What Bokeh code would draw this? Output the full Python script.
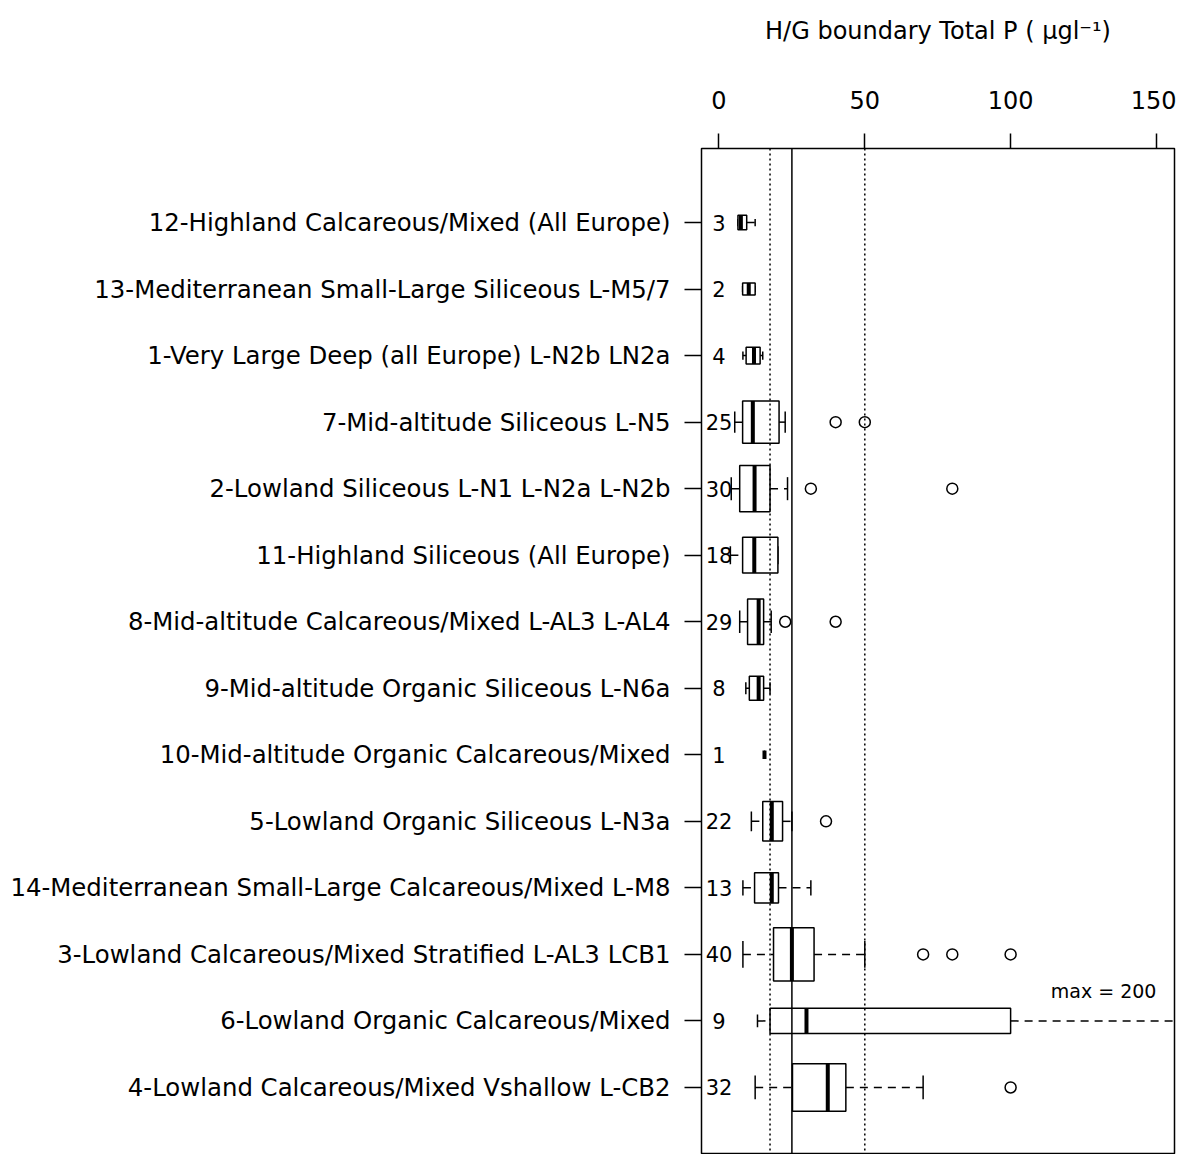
from bokeh.plotting import figure
from bokeh.models import Range1d, LinearAxis, FixedTicker, Span, ColumnDataSource
from bokeh.core.properties import value
from bokeh.embed import file_html
from bokeh.resources import INLINE
import numpy as np

# ---- data (top row first) ----
labels = [
    "12-Highland Calcareous/Mixed (All Europe)",
    "13-Mediterranean Small-Large Siliceous L-M5/7",
    "1-Very Large Deep (all Europe) L-N2b LN2a",
    "7-Mid-altitude Siliceous L-N5",
    "2-Lowland Siliceous L-N1 L-N2a L-N2b",
    "11-Highland Siliceous (All Europe)",
    "8-Mid-altitude Calcareous/Mixed L-AL3 L-AL4",
    "9-Mid-altitude Organic Siliceous L-N6a",
    "10-Mid-altitude Organic Calcareous/Mixed",
    "5-Lowland Organic Siliceous L-N3a",
    "14-Mediterranean Small-Large Calcareous/Mixed L-M8",
    "3-Lowland Calcareous/Mixed Stratified L-AL3 LCB1",
    "6-Lowland Organic Calcareous/Mixed",
    "4-Lowland Calcareous/Mixed Vshallow L-CB2",
]
counts   = [3, 2, 4, 25, 30, 18, 29, 8, 1, 22, 13, 40, 9, 32]
lower    = [6.5, 8.1, 8.2, 5.4, 4.2, 3.9, 7.1, 9.2, 15.6, 11.1, 8.2, 8.2, 13.2, 12.4]
q1       = [6.5, 8.1, 9.3, 8.1, 7.1, 8.1, 9.8, 10.4, 15.6, 15.0, 12.2, 18.7, 17.5, 25.2]
median   = [7.5, 10.2, 12.0, 11.6, 12.2, 12.1, 13.6, 13.6, 15.6, 18.1, 18.1, 25.0, 30.0, 37.3]
q3       = [9.5, 12.4, 14.1, 20.6, 17.5, 20.2, 15.3, 15.3, 15.6, 21.8, 20.4, 32.6, 100.0, 43.5]
upper    = [12.4, 12.4, 15.0, 22.7, 23.5, 20.2, 17.9, 17.5, 15.6, 25.0, 31.5, 50.0, 200.0, 70.0]
outliers = [[], [], [], [40, 50], [31.5, 80], [], [22.7, 40], [], [], [36.7], [], [70, 80, 100], [], [100]]
ref_dotted = [17.5, 50]
ref_solid = [25]
x_ticks = [0, 50, 100, 150]
max_note = "max = 200"

FONT = "DejaVu Sans"
nrow = len(labels)
ypos = [nrow - i for i in range(nrow)]
maxsq = np.sqrt(max(counts))
heights = [0.8 * np.sqrt(n) / maxsq for n in counts]

p = figure(width=1176, height=1154, output_backend="svg", toolbar_location=None,
           x_range=Range1d(-6, 156.2), y_range=Range1d(1 - 67/66.5, nrow + 74/66.5),
           x_axis_location=None, y_axis_location=None,
           min_border_left=701, min_border_right=2, min_border_top=148, min_border_bottom=0)
p.xgrid.visible = False
p.ygrid.visible = False
p.outline_line_color = "black"
p.outline_line_width = 1.5
p.background_fill_color = "white"
p.border_fill_color = "white"

# top axis
ax = LinearAxis(ticker=FixedTicker(ticks=x_ticks))
ax.axis_label = "H/G boundary Total P ( μgl⁻¹)"
ax.axis_label_text_font = FONT
ax.axis_label_text_font_style = "normal"
ax.axis_label_text_font_size = "24px"
ax.axis_label_text_color = "black"
ax.axis_label_standoff = 43
ax.major_label_text_font = FONT
ax.major_label_text_font_size = "24px"
ax.major_label_text_color = "black"
ax.major_label_standoff = 25
ax.major_tick_out = 15
ax.major_tick_in = 0
ax.major_tick_line_width = 1.5
ax.minor_tick_out = 0
ax.minor_tick_in = 0
ax.axis_line_color = None
p.add_layout(ax, "above")

# left axis
ly = LinearAxis(ticker=FixedTicker(ticks=ypos))
ly.major_label_overrides = {y: lab for y, lab in zip(ypos, labels)}
ly.major_label_text_font = FONT
ly.major_label_text_font_size = "24.4px"
ly.major_label_text_color = "black"
ly.major_label_standoff = 14
ly.major_tick_out = 17
ly.major_tick_in = 0
ly.major_tick_line_width = 1.5
ly.minor_tick_out = 0
ly.minor_tick_in = 0
ly.axis_line_color = None
p.add_layout(ly, "left")

# reference lines
for v in ref_dotted:
    p.add_layout(Span(location=v, dimension="height", line_color="black",
                      line_dash="2 3", line_width=1.5))
for v in ref_solid:
    p.add_layout(Span(location=v, dimension="height", line_color="black", line_width=1.5))

src = ColumnDataSource(dict(
    y=ypos, h=heights, lo=lower, q1=q1, med=median, q3=q3, hi=upper,
    ytop=[y + h/2 for y, h in zip(ypos, heights)],
    ybot=[y - h/2 for y, h in zip(ypos, heights)],
    ctop=[y + h/4 for y, h in zip(ypos, heights)],
    cbot=[y - h/4 for y, h in zip(ypos, heights)],
    n=[str(c) for c in counts], zero=[0]*nrow,
))

# whiskers
p.segment(x0="lo", x1="q1", y0="y", y1="y", source=src, line_color="black",
          line_width=1.5, line_dash="8 6")
p.segment(x0="q3", x1="hi", y0="y", y1="y", source=src, line_color="black",
          line_width=1.5, line_dash="8 6")
# caps
p.segment(x0="lo", x1="lo", y0="cbot", y1="ctop", source=src, line_color="black", line_width=1.5)
p.segment(x0="hi", x1="hi", y0="cbot", y1="ctop", source=src, line_color="black", line_width=1.5)
# boxes
p.quad(left="q1", right="q3", bottom="ybot", top="ytop", source=src,
       fill_color="white", line_color="black", line_width=1.5)
# medians
p.segment(x0="med", x1="med", y0="ybot", y1="ytop", source=src, line_color="black", line_width=4)

# outliers
ox, oy = [], []
for y, outs in zip(ypos, outliers):
    for o in outs:
        ox.append(o)
        oy.append(y)
p.scatter(ox, oy, marker="circle", size=11, fill_color=None, line_color="black", line_width=1.5)

# counts
p.text(x="zero", y="y", text="n", source=src, text_align="center", text_baseline="middle",
       text_font=value(FONT), text_font_size="21px", text_color="black")

# max note
p.text(x=[150], y=[ypos[12] + 0.45], text=[max_note], text_align="right", text_baseline="middle",
       text_font=value(FONT), text_font_size="19px", text_color="black")

open("out.html", "w").write(file_html(p, INLINE))
